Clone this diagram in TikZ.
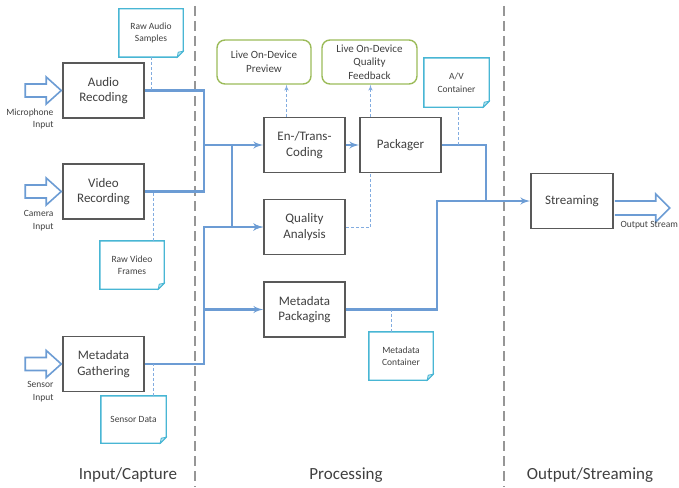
\documentclass[tikz,border=0pt]{standalone}
\usepackage{fontspec}
\setmainfont{Carlito}
\usetikzlibrary{arrows,calc}
\definecolor{boxgray}{RGB}{89,89,89}
\definecolor{flowblue}{RGB}{108,156,212}
\definecolor{tapblue}{RGB}{130,172,224}
\definecolor{notecyan}{RGB}{72,182,212}
\definecolor{livegreen}{RGB}{155,187,89}
\definecolor{divgray}{RGB}{150,150,150}
\definecolor{txtgray}{RGB}{64,64,64}
\tikzset{proc/.style={draw=boxgray, line width=1.5pt, fill=white, minimum width=81, minimum height=55, align=center, text=txtgray, font=\fontsize{13}{15.5}\selectfont},
live/.style={draw=livegreen, line width=1.4pt, rounded corners=8pt, minimum width=94, minimum height=44, align=center, text=txtgray, font=\fontsize{11}{13.5}\selectfont},
%the folded outline is drawn by \foldnote
note/.style={minimum width=64, minimum height=48, align=center, text=txtgray, font=\fontsize{9.5}{12.5}\selectfont},
small/.style={align=right, text=txtgray, font=\fontsize{9.5}{12.5}\selectfont},
title/.style={text=txtgray, font=\fontsize{17}{20}\selectfont},
flow/.style={draw=flowblue, line width=2.4pt},
tap/.style={draw=tapblue, line width=1pt, dash pattern=on 3pt off 2pt},
blockarrow/.style={draw=flowblue, line width=1.6pt, fill=white, line join=miter},
divider/.style={draw=divgray, line width=2.2pt, dash pattern=on 10pt off 5pt}}
\newcommand{\foldnote}[1]{%
\draw[notecyan, line width=1.4pt, line join=miter] (#1.north west) -- (#1.north east) -- ([yshift=6]#1.south east) -- ([xshift=-6]#1.south east) -- (#1.south west) -- cycle;
\draw[notecyan, line width=0.8pt, fill=notecyan!40] ([yshift=6]#1.south east) -- ([xshift=-6]#1.south east) -- ([xshift=-5,yshift=5]#1.south east) -- cycle;}

\begin{document}
\begin{tikzpicture}[x=1pt, y=-1pt, >=latex']
\useasboundingbox (0,0) rectangle (679,487);

% section dividers
\draw[divider] (195,6) -- (195,487);
\draw[divider] (504,6) -- (504,487);

% capture
\node[proc] (audio) at (103.5,90.5) {Audio\\Recoding};
\node[proc] (video) at (103.5,191.5) {Video\\Recording};
\node[proc] (meta) at (103.5,364) {Metadata\\Gathering};

% processing
\node[proc] (enc) at (304.5,145) {En-/Trans-\\Coding};
\node[proc] (pack) at (400.5,145) {Packager};
\node[proc] (qa) at (304.5,227) {Quality\\Analysis};
\node[proc] (mpack) at (304.5,309.5) {Metadata\\Packaging};
\node[live] (preview) at (264,62) {Live On-Device\\Preview};
\node[live, minimum width=95] (feedback) at (369.5,62) {Live On-Device\\Quality\\Feedback};

% streaming
\node[proc, minimum width=82] (stream) at (572,201) {Streaming};

% notes
\node[note] (rawaudio) at (151,33) {Raw Audio\\Samples};
\node[note] (rawvideo) at (132,265) {Raw Video\\Frames};
\node[note, minimum width=65, minimum height=47] (sensor) at (133.5,419.5) {Sensor Data};
\node[note, minimum width=65, minimum height=49] (avbox) at (456.5,82.5) {A/V\\Container};
\node[note] (mcont) at (401,356) {Metadata\\Container};
\foldnote{rawaudio}
\foldnote{rawvideo}
\foldnote{sensor}
\foldnote{avbox}
\foldnote{mcont}

% inputs
\foreach \n in {audio,video,meta}
  \draw[blockarrow] ([xshift=-1]\n.west) -- ++(-15,-13.5) -- ++(0,7) -- ++(-21,0) -- ++(0,13) -- ++(21,0) -- ++(0,7) -- cycle;
\node[small, anchor=north east] (micin) at (57,105) {Microphone\\Input};
\node[small, anchor=north east] (camin) at (57,207) {Camera\\Input};
\node[small, anchor=north east] (senin) at (57,378) {Sensor\\Input};

% output
\draw[blockarrow] ([xshift=1]stream.east) -- ++(41,0) -- ++(0,-7) -- ++(14,14) -- ++(-14,14) -- ++(0,-7) -- ++(-41,0);
\node[small, anchor=west] (outlab) at (617,225) {Output Stream};

% flow lines
\coordinate (mj) at (204,0);
\coordinate (sp) at (232,0);
\coordinate (oj) at (486,0);
\coordinate (mj2) at (437,0);
\draw[flow] (audio.east) -| (mj |- video.east) -- (video.east);
\draw[flow,->] (mj |- enc.west) -- (enc.west);
\draw[flow,->] (sp |- enc.west) |- (qa.west);
\draw[flow,->] (meta.east) -| (mj |- qa.west) -- (qa.west);
\draw[flow,->] (mj |- mpack.west) -- (mpack.west);
\draw[flow,->] (enc.east) -- (pack.west);
\draw[flow] (pack.east) -| (oj |- stream.west);
\draw[flow,->] (mpack.east) -| (mj2 |- stream.west) -- (stream.west);

% dashed taps
\draw[tap] (rawaudio.south) -- (rawaudio.south |- audio.east);
\draw[tap] ([xshift=21]rawvideo.north) -- ([xshift=21]rawvideo.north |- video.east);
\draw[tap] ([xshift=20]sensor.north) -- ([xshift=20]sensor.north |- meta.east);
\draw[tap] ([xshift=1.5]avbox.south) -- ([xshift=1.5]avbox.south |- pack.east);
\draw[tap] ([xshift=-10]mcont.north) -- ([xshift=-10]mcont.north |- mpack.east);
\draw[tap,->] ([xshift=-18]enc.north) -- ([xshift=-18]enc.north |- preview.south);
\draw[tap] (qa.east) -| ([xshift=-30]pack.south);
\draw[tap,->] ([xshift=-30]pack.north) -- ([xshift=-30]pack.north |- feedback.south);

% sections
\node[title] (capture) at (128,475) {Input/Capture};
\node[title] (processing) at (346,475) {Processing};
\node[title] (output) at (590,475) {Output/Streaming};

\end{tikzpicture}
\end{document}
